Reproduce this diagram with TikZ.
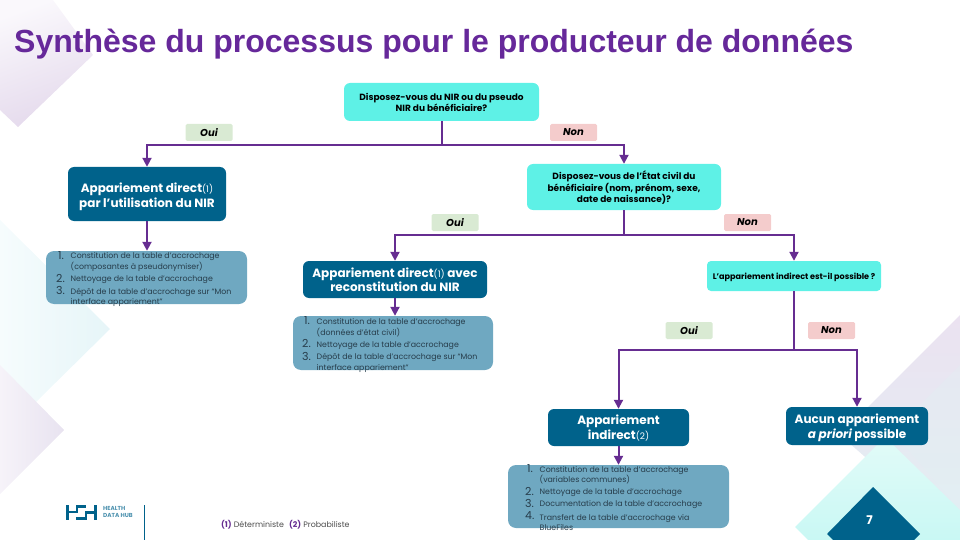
\documentclass[tikz,border=0pt]{standalone}
\usepackage{fontspec}
\setmainfont{Poppins}
\newfontfamily\titlefont{Liberation Sans}
\usetikzlibrary{arrows.meta,calc}
\definecolor{cyanbox}{HTML}{5EF1E6}
\definecolor{darkbox}{HTML}{00628B}
\definecolor{lightbox}{HTML}{6FA8C1}
\definecolor{violet}{HTML}{662D91}
\definecolor{titlecol}{HTML}{66289A}
\definecolor{ouitag}{HTML}{D9EAD3}
\definecolor{nontag}{HTML}{F4CCCC}
\definecolor{listtext}{HTML}{263C4A}
\newcommand{\lift}[1]{\rule{0pt}{#1pt}}
\tikzset{
  qbox/.style={fill=cyanbox,rounded corners=6pt,inner sep=0pt,align=center,text=black,font=\fontsize{9}{11.6}\selectfont\bfseries},
  dbox/.style={fill=darkbox,rounded corners=6pt,inner sep=0pt,align=center,text=white,font=\fontsize{12}{14.5}\selectfont\bfseries},
  lbox/.style={fill=lightbox,rounded corners=8pt,inner sep=0pt},
  tag/.style={rounded corners=1.5pt,inner sep=0pt,minimum width=47pt,minimum height=17pt,text=black,font=\fontsize{10}{11}\selectfont\bfseries\itshape},
  yes/.style={tag,fill=ouitag},
  no/.style={tag,fill=nontag},
  conn/.style={draw=violet,line width=2pt},
  arr/.style={conn,-{Triangle[length=9pt,width=9pt]}},
  li/.style={anchor=west,inner sep=0pt,align=left,yshift=-0.8pt,text=listtext,font=\fontsize{7.85}{10.3}\selectfont},
  num/.style={anchor=west,inner sep=0pt,text=listtext,font=\fontsize{11}{11}\selectfont},
}
\newcommand{\sm}[1]{{\fontsize{9}{10}\selectfont\mdseries #1}}
\begin{document}
\begin{tikzpicture}[x=1pt,y=-1pt]
\useasboundingbox (0,0) rectangle (960,540);
% background
\definecolor{p1}{HTML}{E4D9EC}\definecolor{p2}{HTML}{FAF8FC}
\definecolor{c1}{HTML}{F6FCFD}\definecolor{c2}{HTML}{E6F5F8}
\definecolor{p3}{HTML}{F6F3F9}\definecolor{p4}{HTML}{E8E3F0}
\definecolor{p5}{HTML}{EBE2F1}\definecolor{p6}{HTML}{E2F0F3}
\definecolor{c3}{HTML}{E2FBF8}\definecolor{c4}{HTML}{C9F8F4}
\shade[left color=p2,right color=p1,shading angle=20] (53,0) -- (93,55) -- (18,127) -- (0,110) -- (0,0) -- cycle;
\shade[left color=c1,right color=c2] (0,220) -- (110,329) -- (38,400) -- (0,438) -- cycle;
\shade[left color=p3,right color=p4] (0,365) -- (64,430) -- (0,494) -- cycle;
\shade[top color=p5,bottom color=p6] (960,315) -- (840,435) -- (960,540) -- cycle;
\fill[p6,opacity=.35] (960,365) -- (893,432) -- (960,510) -- cycle;
\shade[top color=c3,bottom color=c4] (885,437) -- (960,510) -- (960,540) -- (808,540) -- (795,527) -- cycle;
% title
\node[anchor=west,inner sep=0pt,text=titlecol,font=\fontsize{32}{36}\titlefont\bfseries] (title) at (14,44) {Synthèse du processus pour le producteur de données};
% question boxes
\node[qbox,minimum width=195pt,minimum height=38pt] (q1) at (441.5,102) {\lift{8}Disposez-vous du NIR ou du pseudo\\NIR du bénéficiaire?};
\node[qbox,minimum width=194pt,minimum height=46pt] (q2) at (624,187) {\lift{10}Disposez-vous de l’État civil du\\bénéficiaire (nom, prénom, sexe,\\date de naissance)?};
\node[qbox,minimum width=174pt,minimum height=30pt,font=\fontsize{8.1}{9}\selectfont\bfseries,rounded corners=4pt] (q3) at (794,276) {\lift{9.5}L'appariement indirect est-il possible ?};
% result boxes
\node[dbox,minimum width=158pt,minimum height=54pt] (a) at (147,194) {\lift{15}Appariement direct\sm{(1)}\\par l’utilisation du NIR};
\node[dbox,minimum width=184pt,minimum height=37pt] (b) at (395,279.5) {\lift{9.5}Appariement direct\sm{(1)} avec\\reconstitution du NIR};
\node[dbox,minimum width=141pt,minimum height=37pt] (c) at (618.5,427.5) {\lift{11}Appariement\\indirect\sm{(2)}};
\node[dbox,minimum width=142pt,minimum height=38pt] (d) at (857,426) {\lift{13}Aucun appariement\\{\itshape a priori} possible};
% list boxes
\node[lbox,minimum width=201pt,minimum height=53pt] (la) at (146.5,277.5) {};
\node[lbox,minimum width=200pt,minimum height=54pt] (lb) at (393,343) {};
\node[lbox,minimum width=221pt,minimum height=63pt] (lc) at (618.5,496.5) {};
% list a
\node[num] (a1n) at (58,256) {1.};
\node[li] (a1) at (70.5,261.3) {Constitution de la table d’accrochage\\(composantes à pseudonymiser)};
\node[num] (a2n) at (56,278) {2.};
\node[li] (a2) at (70.5,278.7) {Nettoyage de la table d’accrochage};
\node[num] (a3n) at (56,290.5) {3.};
\node[li] (a3) at (70.5,296.5) {Dépôt de la table d’accrochage sur “Mon\\interface appariement”};
% list b
\node[num] (b1n) at (304,321) {1.};
\node[li] (b1) at (316.5,327) {Constitution de la table d’accrochage\\(données d’état civil)};
\node[num] (b2n) at (302,343.5) {2.};
\node[li] (b2) at (316.5,344.5) {Nettoyage de la table d’accrochage};
\node[num] (b3n) at (302,356) {3.};
\node[li] (b3) at (316.5,362) {Dépôt de la table d’accrochage sur “Mon\\interface appariement”};
% list c
\node[num] (c1n) at (527,468.5) {1.};
\node[li] (c1) at (539.5,474.3) {Constitution de la table d’accrochage\\(variables communes)};
\node[num] (c2n) at (525,491) {2.};
\node[li] (c2) at (539.5,491.5) {Nettoyage de la table d’accrochage};
\node[num] (c3n) at (525,503.5) {3.};
\node[li] (c3) at (539.5,504) {Documentation de la table d’accrochage};
\node[num] (c4n) at (525,516) {4.};
\node[li] (c4) at (539.5,521.8) {Transfert de la table d’accrochage via\\BlueFiles};
% tags
\node[yes] (t1) at (209,132.5) {Oui};
\node[no] (t2) at (573.5,132.5) {Non};
\node[yes] (t3) at (455,222.5) {Oui};
\node[no] (t4) at (747.5,222.5) {Non};
\node[yes] (t5) at (689,330.5) {Oui};
\node[no] (t6) at (831.5,330.5) {Non};
% connectors
\coordinate (j1) at ($(q1.south)+(0,24)$);
\coordinate (j2) at ($(q2.south)+(0,25)$);
\coordinate (j3) at ($(q3.south)+(0,59)$);
\draw[conn] (q1.south) -- (j1);
\draw[arr] (j1) -| (a.north);
\draw[arr] (j1) -| (q2.north);
\draw[conn] (q2.south) -- (j2);
\draw[arr] (j2) -| (b.north);
\draw[arr] (j2) -| (q3.north);
\draw[conn] (q3.south) -- (j3);
\draw[arr] (j3) -| (c.north);
\draw[arr] (j3) -| (d.north);
\draw[arr] (a.south) -- (a.south |- la.north);
\draw[arr] (b.south) -- (b.south |- lb.north);
\draw[arr] (c.south) -- (c.south |- lc.north);
% page number
\fill[darkbox] (873,487) -- (920,534) -- (914,540) -- (833,540) -- (827,534) -- cycle;
\node[text=white,inner sep=0pt,font=\fontsize{12}{12}\selectfont\bfseries] (pg) at (869.5,520) {7};
% footer
\node[anchor=west,inner sep=0pt,text=black!70,font=\fontsize{7.9}{9}\selectfont] (leg) at (221,525) {\textcolor{violet}{\bfseries(1)} Déterministe\hspace{3pt} \textcolor{violet}{\bfseries(2)} Probabiliste};
\draw[darkbox,line width=1pt] (144.5,505) -- (144.5,540);
\draw[darkbox,line width=2.6pt] (67.3,505) -- (67.3,520) (67,512) -- (77,512) -- (77,506.3) -- (86,506.3) (76,518.7) -- (86,518.7) -- (86,512.5) -- (96,512.5) (95.7,505) -- (95.7,520);
\node[anchor=west,inner sep=0pt,align=left,text=darkbox!70,font=\fontsize{5.8}{7}\selectfont\bfseries] (logo) at (103,512) {HEALTH\\DATA HUB};
\end{tikzpicture}
\end{document}
